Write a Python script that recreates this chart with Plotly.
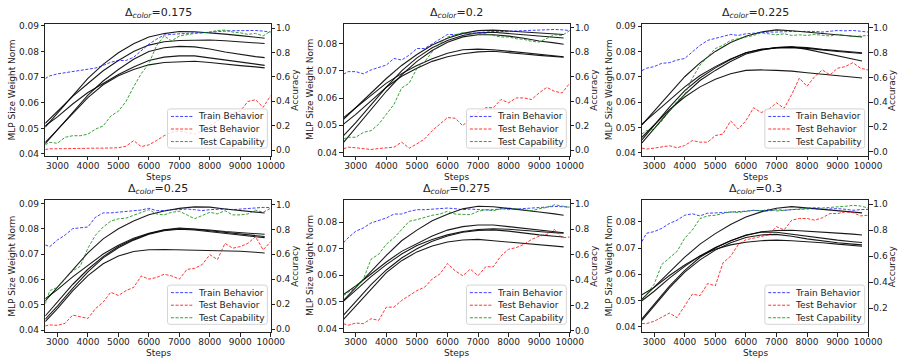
import plotly.graph_objects as go

# ---------------- data ----------------
steps_acc = [2600, 2750, 3000, 3250, 3500, 3750, 4000, 4250, 4500, 4750, 5000, 5250,
             5500, 5750, 6000, 6250, 6500, 6750, 7000, 7250, 7500, 7750, 8000, 8250,
             8500, 8750, 9000, 9250, 9500, 9750, 10000]
steps_norm = [2600, 3000, 3500, 4000, 4500, 5000, 5500, 6000, 6500, 7000, 7500, 8000,
              8500, 9000, 9500, 9800]

deltas = ["0.175", "0.2", "0.225", "0.25", "0.275", "0.3"]
series_names = ["Train Behavior", "Test Behavior", "Test Capability"]

# Panel 1
p1_train = [0.587, 0.609, 0.625, 0.635, 0.641, 0.649, 0.660, 0.673, 0.694, 0.721, 0.735, 0.735,
            0.761, 0.815, 0.869, 0.909, 0.944, 0.949, 0.954, 0.957, 0.962, 0.962, 0.968, 0.971,
            0.976, 0.979, 0.981, 0.984, 0.981, 0.976, 0.968]
p1_test = [0.005, 0.011, 0.011, 0.013, 0.013, 0.016, 0.019, 0.016, 0.016, 0.019, 0.019, 0.032,
           0.078, 0.029, 0.043, 0.078, 0.118, 0.145, 0.158, 0.145, 0.131, 0.158, 0.198, 0.239,
           0.279, 0.306, 0.319, 0.399, 0.413, 0.351, 0.448]
p1_cap = [0.043, 0.064, 0.056, 0.105, 0.118, 0.118, 0.131, 0.172, 0.198, 0.279, 0.319, 0.399,
          0.520, 0.627, 0.708, 0.855, 0.936, 0.895, 0.936, 0.949, 0.957, 0.962, 0.968, 0.981,
          0.984, 0.968, 0.962, 0.949, 0.957, 0.936, 0.976]
p1_norm = [
    [0.0505, 0.0560, 0.0630, 0.0695, 0.0750, 0.0795, 0.0830, 0.0857, 0.0870, 0.0878, 0.0877, 0.0873, 0.0868, 0.0862, 0.0856, 0.0852],
    [0.0520, 0.0565, 0.0625, 0.0675, 0.0725, 0.0765, 0.0800, 0.0825, 0.0838, 0.0843, 0.0845, 0.0845, 0.0842, 0.0838, 0.0834, 0.0831],
    [0.0440, 0.0495, 0.0565, 0.0630, 0.0685, 0.0730, 0.0770, 0.0800, 0.0815, 0.0820, 0.0818, 0.0810, 0.0798, 0.0788, 0.0780, 0.0776],
    [0.0510, 0.0545, 0.0595, 0.0640, 0.0675, 0.0710, 0.0740, 0.0765, 0.0778, 0.0783, 0.0783, 0.0775, 0.0765, 0.0757, 0.0750, 0.0746],
    [0.0445, 0.0495, 0.0560, 0.0620, 0.0670, 0.0705, 0.0730, 0.0748, 0.0757, 0.0760, 0.0762, 0.0757, 0.0750, 0.0745, 0.0740, 0.0736],
]

# Panel 2
p2_train = [0.621, 0.642, 0.642, 0.624, 0.656, 0.675, 0.696, 0.750, 0.737, 0.777, 0.831, 0.831,
            0.871, 0.911, 0.946, 0.946, 0.952, 0.957, 0.960, 0.965, 0.970, 0.970, 0.973, 0.976,
            0.978, 0.978, 0.981, 0.984, 0.987, 0.984, 0.978]
p2_test = [0.011, 0.024, 0.019, 0.011, 0.005, 0.013, 0.016, 0.024, 0.065, 0.016, 0.051, 0.091,
           0.159, 0.212, 0.266, 0.261, 0.199, 0.266, 0.306, 0.347, 0.347, 0.414, 0.387, 0.427,
           0.427, 0.414, 0.468, 0.513, 0.481, 0.468, 0.548]
p2_cap = [0.091, 0.105, 0.105, 0.145, 0.159, 0.212, 0.293, 0.374, 0.508, 0.548, 0.669, 0.723,
          0.804, 0.871, 0.925, 0.944, 0.960, 0.952, 0.952, 0.952, 0.938, 0.925, 0.925, 0.911,
          0.906, 0.890, 0.884, 0.917, 0.944, 0.938, 0.978]
p2_norm = [
    [0.0522, 0.0565, 0.0620, 0.0672, 0.0720, 0.0760, 0.0795, 0.0820, 0.0838, 0.0848, 0.0850, 0.0847, 0.0843, 0.0840, 0.0836, 0.0834],
    [0.0462, 0.0510, 0.0575, 0.0640, 0.0700, 0.0748, 0.0785, 0.0812, 0.0830, 0.0840, 0.0842, 0.0838, 0.0833, 0.0828, 0.0824, 0.0821],
    [0.0437, 0.0490, 0.0560, 0.0625, 0.0685, 0.0735, 0.0775, 0.0805, 0.0825, 0.0833, 0.0833, 0.0828, 0.0820, 0.0810, 0.0803, 0.0798],
    [0.0528, 0.0565, 0.0610, 0.0655, 0.0690, 0.0720, 0.0745, 0.0765, 0.0778, 0.0780, 0.0778, 0.0772, 0.0765, 0.0760, 0.0755, 0.0752],
    [0.0504, 0.0540, 0.0590, 0.0640, 0.0680, 0.0710, 0.0735, 0.0752, 0.0763, 0.0770, 0.0772, 0.0768, 0.0762, 0.0757, 0.0753, 0.0750],
]

# Panel 3
p3_train = [0.655, 0.674, 0.687, 0.714, 0.719, 0.740, 0.753, 0.806, 0.859, 0.899, 0.912, 0.931,
            0.947, 0.939, 0.952, 0.958, 0.960, 0.966, 0.966, 0.971, 0.971, 0.971, 0.973, 0.971,
            0.966, 0.971, 0.979, 0.976, 0.979, 0.973, 0.966]
p3_test = [0.029, 0.021, 0.029, 0.037, 0.048, 0.032, 0.050, 0.090, 0.077, 0.077, 0.130, 0.143,
           0.249, 0.183, 0.249, 0.355, 0.316, 0.342, 0.395, 0.350, 0.462, 0.594, 0.528, 0.607,
           0.660, 0.621, 0.674, 0.687, 0.719, 0.674, 0.660]
p3_cap = [0.143, 0.170, 0.183, 0.249, 0.329, 0.408, 0.462, 0.594, 0.700, 0.767, 0.833, 0.859,
          0.899, 0.912, 0.926, 0.939, 0.960, 0.952, 0.944, 0.952, 0.939, 0.944, 0.939, 0.947,
          0.939, 0.934, 0.947, 0.939, 0.931, 0.934, 0.939]
p3_norm = [
    [0.0510, 0.0565, 0.0630, 0.0700, 0.0755, 0.0800, 0.0835, 0.0860, 0.0877, 0.0885, 0.0882, 0.0876, 0.0870, 0.0865, 0.0860, 0.0857],
    [0.0513, 0.0555, 0.0610, 0.0660, 0.0705, 0.0740, 0.0770, 0.0795, 0.0808, 0.0815, 0.0818, 0.0815, 0.0808, 0.0803, 0.0798, 0.0795],
    [0.0451, 0.0510, 0.0580, 0.0645, 0.0695, 0.0735, 0.0768, 0.0795, 0.0808, 0.0814, 0.0815, 0.0812, 0.0805, 0.0800, 0.0795, 0.0792],
    [0.0439, 0.0495, 0.0565, 0.0630, 0.0685, 0.0725, 0.0760, 0.0790, 0.0805, 0.0815, 0.0818, 0.0808, 0.0795, 0.0782, 0.0770, 0.0762],
    [0.0461, 0.0510, 0.0570, 0.0620, 0.0660, 0.0690, 0.0712, 0.0725, 0.0727, 0.0725, 0.0722, 0.0716, 0.0710, 0.0704, 0.0698, 0.0695],
]

# Panel 4
p4_train = [0.675, 0.662, 0.715, 0.754, 0.806, 0.812, 0.819, 0.898, 0.932, 0.932, 0.937, 0.942,
            0.945, 0.955, 0.969, 0.950, 0.950, 0.958, 0.958, 0.963, 0.958, 0.950, 0.958, 0.963,
            0.963, 0.958, 0.963, 0.969, 0.976, 0.976, 0.974]
p4_test = [0.026, 0.034, 0.031, 0.047, 0.113, 0.099, 0.086, 0.165, 0.217, 0.296, 0.270, 0.309,
           0.335, 0.427, 0.401, 0.414, 0.440, 0.427, 0.401, 0.479, 0.487, 0.518, 0.597, 0.558,
           0.688, 0.649, 0.662, 0.688, 0.741, 0.636, 0.702]
p4_cap = [0.204, 0.309, 0.335, 0.401, 0.466, 0.505, 0.649, 0.754, 0.819, 0.866, 0.885, 0.890,
          0.911, 0.937, 0.958, 0.924, 0.916, 0.937, 0.945, 0.916, 0.885, 0.911, 0.937, 0.924,
          0.950, 0.916, 0.916, 0.924, 0.955, 0.937, 0.969]
p4_norm = [
    [0.0515, 0.0570, 0.0640, 0.0705, 0.0760, 0.0800, 0.0830, 0.0855, 0.0870, 0.0880, 0.0886, 0.0885, 0.0878, 0.0872, 0.0866, 0.0862],
    [0.0524, 0.0560, 0.0610, 0.0655, 0.0700, 0.0735, 0.0762, 0.0782, 0.0796, 0.0803, 0.0800, 0.0795, 0.0789, 0.0785, 0.0780, 0.0778],
    [0.0456, 0.0510, 0.0580, 0.0640, 0.0690, 0.0730, 0.0758, 0.0780, 0.0795, 0.0800, 0.0798, 0.0792, 0.0785, 0.0778, 0.0772, 0.0769],
    [0.0443, 0.0495, 0.0565, 0.0630, 0.0685, 0.0725, 0.0755, 0.0778, 0.0792, 0.0798, 0.0795, 0.0788, 0.0780, 0.0773, 0.0768, 0.0765],
    [0.0434, 0.0485, 0.0555, 0.0615, 0.0662, 0.0692, 0.0710, 0.0717, 0.0718, 0.0717, 0.0716, 0.0716, 0.0714, 0.0711, 0.0707, 0.0704],
]

# Panel 5
p5_train = [0.694, 0.732, 0.784, 0.810, 0.849, 0.868, 0.888, 0.919, 0.919, 0.940, 0.953, 0.953,
            0.958, 0.961, 0.966, 0.961, 0.953, 0.958, 0.953, 0.951, 0.953, 0.961, 0.966, 0.958,
            0.961, 0.966, 0.971, 0.974, 0.979, 0.977, 0.974]
p5_test = [0.057, 0.044, 0.062, 0.057, 0.096, 0.083, 0.187, 0.187, 0.239, 0.278, 0.317, 0.343,
           0.408, 0.447, 0.530, 0.473, 0.434, 0.486, 0.434, 0.504, 0.504, 0.590, 0.642, 0.655,
           0.681, 0.719, 0.745, 0.758, 0.797, 0.732, 0.738]
p5_cap = [0.278, 0.304, 0.343, 0.408, 0.564, 0.603, 0.681, 0.732, 0.797, 0.862, 0.875, 0.894,
          0.909, 0.919, 0.940, 0.919, 0.919, 0.914, 0.940, 0.953, 0.945, 0.961, 0.953, 0.961,
          0.953, 0.945, 0.961, 0.971, 0.992, 0.979, 0.971]
p5_norm = [
    [0.0506, 0.0555, 0.0615, 0.0675, 0.0730, 0.0770, 0.0805, 0.0830, 0.0850, 0.0860, 0.0858, 0.0852, 0.0845, 0.0838, 0.0831, 0.0826],
    [0.0528, 0.0560, 0.0605, 0.0650, 0.0690, 0.0720, 0.0748, 0.0770, 0.0783, 0.0789, 0.0789, 0.0783, 0.0776, 0.0769, 0.0763, 0.0760],
    [0.0503, 0.0545, 0.0595, 0.0640, 0.0680, 0.0712, 0.0735, 0.0752, 0.0765, 0.0772, 0.0775, 0.0773, 0.0768, 0.0764, 0.0760, 0.0758],
    [0.0450, 0.0500, 0.0565, 0.0620, 0.0665, 0.0700, 0.0728, 0.0748, 0.0762, 0.0769, 0.0771, 0.0766, 0.0758, 0.0752, 0.0747, 0.0744],
    [0.0434, 0.0485, 0.0550, 0.0610, 0.0655, 0.0688, 0.0710, 0.0725, 0.0733, 0.0735, 0.0730, 0.0725, 0.0720, 0.0715, 0.0710, 0.0707],
]

# Panel 6
p6_train = [0.714, 0.777, 0.790, 0.815, 0.853, 0.878, 0.916, 0.927, 0.911, 0.932, 0.934, 0.937,
            0.942, 0.942, 0.947, 0.954, 0.954, 0.949, 0.959, 0.954, 0.959, 0.962, 0.967, 0.967,
            0.962, 0.967, 0.967, 0.962, 0.954, 0.959, 0.962]
p6_test = [0.081, 0.081, 0.099, 0.132, 0.162, 0.127, 0.220, 0.309, 0.296, 0.390, 0.372, 0.549,
           0.600, 0.689, 0.727, 0.739, 0.752, 0.765, 0.828, 0.803, 0.878, 0.891, 0.891, 0.878,
           0.896, 0.929, 0.929, 0.942, 0.937, 0.911, 0.916]
p6_cap = [0.258, 0.309, 0.385, 0.537, 0.587, 0.638, 0.739, 0.803, 0.891, 0.911, 0.916, 0.929,
          0.942, 0.937, 0.947, 0.954, 0.949, 0.962, 0.949, 0.954, 0.962, 0.967, 0.972, 0.975,
          0.972, 0.975, 0.980, 0.985, 0.992, 0.987, 0.972]
p6_norm = [
    [0.0505, 0.0550, 0.0610, 0.0665, 0.0715, 0.0755, 0.0790, 0.0818, 0.0838, 0.0852, 0.0858, 0.0853, 0.0848, 0.0843, 0.0838, 0.0834],
    [0.0499, 0.0535, 0.0585, 0.0630, 0.0670, 0.0702, 0.0728, 0.0748, 0.0762, 0.0767, 0.0768, 0.0765, 0.0760, 0.0757, 0.0753, 0.0750],
    [0.0430, 0.0485, 0.0555, 0.0615, 0.0665, 0.0700, 0.0728, 0.0750, 0.0760, 0.0760, 0.0752, 0.0745, 0.0737, 0.0730, 0.0724, 0.0721],
    [0.0424, 0.0478, 0.0548, 0.0608, 0.0655, 0.0692, 0.0720, 0.0740, 0.0750, 0.0752, 0.0745, 0.0735, 0.0727, 0.0720, 0.0715, 0.0712],
    [0.0522, 0.0550, 0.0595, 0.0635, 0.0670, 0.0695, 0.0712, 0.0722, 0.0728, 0.0730, 0.0728, 0.0725, 0.0720, 0.0715, 0.0710, 0.0707],
]

x_ticks = [3000, 4000, 5000, 6000, 7000, 8000, 9000, 10000]

panels = [
    dict(train=p1_train, test=p1_test, cap=p1_cap, norm=p1_norm),
    dict(train=p2_train, test=p2_test, cap=p2_cap, norm=p2_norm),
    dict(train=p3_train, test=p3_test, cap=p3_cap, norm=p3_norm),
    dict(train=p4_train, test=p4_test, cap=p4_cap, norm=p4_norm),
    dict(train=p5_train, test=p5_test, cap=p5_cap, norm=p5_norm),
    dict(train=p6_train, test=p6_test, cap=p6_cap, norm=p6_norm),
]

# ---------------- layout geometry (pixels) ----------------
W, H = 910, 360
col_px = [(46, 275.3), (349.3, 579.3), (652.7, 882.7)]
row_px = [(21, 156), (200.7, 335.7)]
left_ranges = [(0.03923, 0.0909), (0.0387, 0.0874), (0.0387, 0.0910),
               (0.0392, 0.0914), (0.0386, 0.0884), (0.0379, 0.0884)]
right_ranges = [(-0.048, 1.0375), (-0.048, 1.035), (-0.0345, 1.0345),
                (-0.024, 1.037), (-0.010, 1.031), (0.015, 1.035)]
x_range = (2600, 10000)

FONT = "DejaVu Sans"
TXT = "#222"
COLORS = ["rgba(0,0,255,0.75)", "rgba(255,0,0,0.8)", "rgba(0,140,0,0.8)"]
DASH = "3px,1.6px"
axis_line = dict(showline=True, linecolor=TXT, linewidth=0.8, ticks="outside",
                 ticklen=3.5, tickwidth=0.8, tickcolor=TXT, showgrid=False,
                 zeroline=False, tickfont=dict(family=FONT, size=9, color=TXT))


def px(xp):
    return xp / W


def py(yp):
    return 1 - yp / H


fig = go.Figure()
annotations = []
shapes = []
layout = dict(width=W, height=H, margin=dict(l=0, r=0, t=0, b=0),
              paper_bgcolor="white", plot_bgcolor="white", showlegend=False,
              font=dict(family=FONT, size=9, color=TXT))

for i, p in enumerate(panels):
    r, c = divmod(i, 3)
    x0, x1 = col_px[c]
    ytop, ybot = row_px[r]
    n = i + 1
    xa = "x" if n == 1 else f"x{n}"
    ya = "y" if n == 1 else f"y{n}"
    yr = f"y{n + 6}"

    layout["xaxis" if n == 1 else f"xaxis{n}"] = dict(
        domain=[px(x0), px(x1)], range=list(x_range), anchor=ya, tickvals=x_ticks,
        tickformat="d", mirror=True, ticklabelstandoff=-2, **axis_line)
    layout["yaxis" if n == 1 else f"yaxis{n}"] = dict(
        domain=[py(ybot), py(ytop)], range=list(left_ranges[i]), anchor=xa, dtick=0.01,
        tick0=0, tickformat=".2f", **axis_line)
    layout[f"yaxis{n + 6}"] = dict(
        overlaying=ya, side="right", anchor=xa, range=list(right_ranges[i]),
        dtick=0.2, tick0=0, tickformat=".1f", ticklabelstandoff=-1, **axis_line)

    for vals in p["norm"]:
        fig.add_trace(go.Scatter(x=steps_norm, y=vals, xaxis=xa, yaxis=ya, mode="lines",
                                 line=dict(color="rgba(0,0,0,0.9)", width=1.1),
                                 showlegend=False, hoverinfo="skip"))
    for key, name, col in zip(["train", "test", "cap"], series_names, COLORS):
        fig.add_trace(go.Scatter(x=steps_acc, y=p[key], xaxis=xa, yaxis=yr, mode="lines",
                                 name=name, showlegend=False,
                                 line=dict(color=col, width=1, dash=DASH)))

    # legend box (matplotlib-like, drawn in paper coordinates)
    bl, br = x1 - 105, x1 - 3.5
    bt, bb = ybot - 48, ybot - 8
    rr = 2.5
    path = (f"M {px(bl + rr)},{py(bt)} L {px(br - rr)},{py(bt)} Q {px(br)},{py(bt)} {px(br)},{py(bt + rr)} "
            f"L {px(br)},{py(bb - rr)} Q {px(br)},{py(bb)} {px(br - rr)},{py(bb)} "
            f"L {px(bl + rr)},{py(bb)} Q {px(bl)},{py(bb)} {px(bl)},{py(bb - rr)} "
            f"L {px(bl)},{py(bt + rr)} Q {px(bl)},{py(bt)} {px(bl + rr)},{py(bt)} Z")
    shapes.append(dict(type="path", xref="paper", yref="paper", path=path, layer="above",
                       fillcolor="rgba(255,255,255,0.8)", line=dict(color="#d5d5d5", width=1)))
    for k, (name, col) in enumerate(zip(series_names, COLORS)):
        yy = bt + 7.7 + 12.8 * k
        shapes.append(dict(type="line", xref="paper", yref="paper", layer="above",
                           x0=px(bl + 3.5), x1=px(bl + 26), y0=py(yy), y1=py(yy),
                           line=dict(color=col, width=1, dash=DASH)))
        annotations.append(dict(text=name, x=px(bl + 29), y=py(yy), xref="paper", yref="paper",
                                xanchor="left", yanchor="middle", showarrow=False,
                                font=dict(family=FONT, size=9, color=TXT)))

    cx = (x0 + x1) / 2
    cy = (ytop + ybot) / 2
    annotations.append(dict(text=f"Δ<sub><i>color</i></sub>={deltas[i]}", x=px(cx), y=py(ytop - 2),
                            xref="paper", yref="paper", xanchor="center", yanchor="bottom",
                            showarrow=False, font=dict(family=FONT, size=11, color=TXT)))
    annotations.append(dict(text="Steps", x=px(cx), y=py(ybot + 21), xref="paper", yref="paper",
                            xanchor="center", yanchor="middle", showarrow=False,
                            font=dict(family=FONT, size=9, color=TXT)))
    annotations.append(dict(text="MLP Size Weight Norm", x=px(x0 - 34), y=py(cy), xref="paper",
                            yref="paper", xanchor="center", yanchor="middle", textangle=-90,
                            showarrow=False, font=dict(family=FONT, size=9, color=TXT)))
    annotations.append(dict(text="Accuracy", x=px(x1 + 24.5), y=py(cy), xref="paper",
                            yref="paper", xanchor="center", yanchor="middle", textangle=-90,
                            showarrow=False, font=dict(family=FONT, size=9, color=TXT)))

layout["annotations"] = annotations
layout["shapes"] = shapes
fig.update_layout(**layout)
fig.write_html("out.html")
